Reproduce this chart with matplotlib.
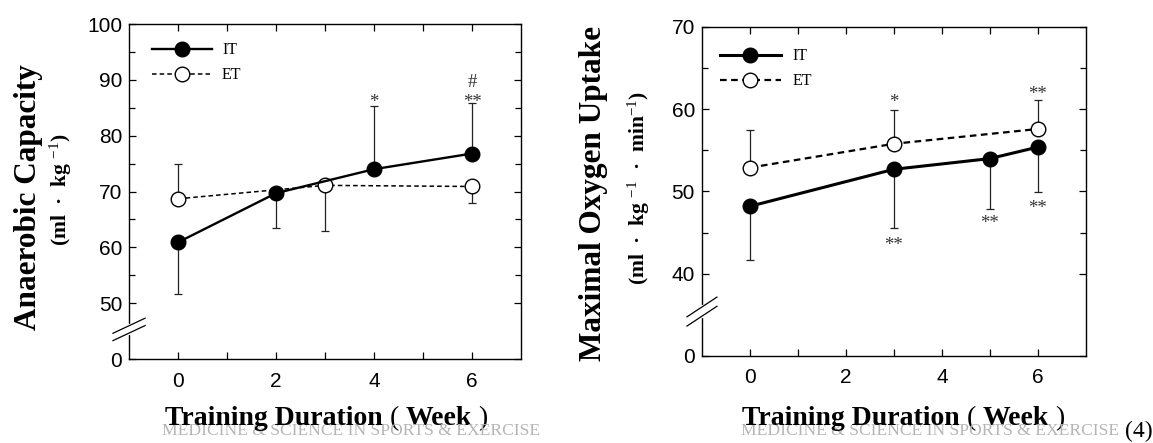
import matplotlib
matplotlib.use("Agg")
import matplotlib.pyplot as plt
from matplotlib.lines import Line2D
from matplotlib.ticker import FixedLocator

plt.rcParams['font.family'] = ['Liberation Sans', 'DejaVu Sans']
plt.rcParams['mathtext.fontset'] = 'custom'
plt.rcParams['mathtext.rm'] = 'Liberation Serif'
plt.rcParams['mathtext.it'] = 'Liberation Serif:italic'
plt.rcParams['mathtext.bf'] = 'Liberation Serif:bold'

SERIF = ['Liberation Serif', 'DejaVu Serif']

# ---------------- data: Anaerobic capacity (left) ----------------
ac_it_weeks = [0, 2, 4, 6]
ac_it_mean = [60.9, 69.7, 74.0, 76.8]
ac_it_err_low = [9.3, 6.2, 0.0, 0.0]
ac_it_err_high = [0.0, 0.0, 11.3, 9.1]

ac_et_weeks = [0, 3, 6]
ac_et_mean = [68.7, 71.1, 70.9]
ac_et_err_low = [0.0, 8.1, 2.9]
ac_et_err_high = [6.2, 0.0, 0.0]

ac_marks_text = ['*', '**', '#']
ac_marks_x = [4, 6, 6]
ac_marks_y = [86.9, 86.9, 89.8]

ac_yticks = [40, 50, 60, 70, 80, 90, 100]
ac_yticklabels = ['0', '50', '60', '70', '80', '90', '100']

# ---------------- data: VO2max (right) ----------------
vo_it_weeks = [0, 3, 5, 6]
vo_it_mean = [48.2, 52.7, 54.0, 55.4]
vo_it_err_low = [6.5, 7.1, 6.1, 5.5]
vo_it_err_high = [0.0, 0.0, 0.0, 0.0]

vo_et_weeks = [0, 3, 6]
vo_et_mean = [52.9, 55.8, 57.6]
vo_et_err_low = [0.0, 0.0, 0.0]
vo_et_err_high = [4.6, 4.1, 3.5]

vo_marks_text = ['*', '**', '**', '**', '**']
vo_marks_x = [3, 3, 5, 6, 6]
vo_marks_y = [61.5, 44.1, 46.7, 62.4, 48.6]

vo_yticks = [30, 40, 50, 60, 70]
vo_yticklabels = ['0', '40', '50', '60', '70']

xticks = [0, 2, 4, 6]
xticklabels = ['0', '2', '4', '6']
series_labels = ['IT', 'ET']

fig = plt.figure(figsize=(11.53, 4.43), dpi=100)
ax1 = fig.add_axes([0.1119, 0.1896, 0.3400, 0.7562])
ax2 = fig.add_axes([0.6088, 0.1964, 0.3330, 0.7427])


def draw_panel(ax, itw, itm, itl, ith, etw, etm, etl, eth, ylim, yticks, yticklabels,
               yminor, it_lw, et_lw, ybreak, brk_dx, brk_dy, brk_gap,
               mk_text, mk_x, mk_y, leg_anchor, leg_pad):
    ax.set_xlim(-1, 7)
    ax.set_ylim(*ylim)
    # error bars (one sided)
    ax.errorbar(itw, itm, yerr=[itl, ith], fmt='none', ecolor='#222222',
                elinewidth=0.9, capsize=3, capthick=0.9, zorder=2)
    ax.errorbar(etw, etm, yerr=[etl, eth], fmt='none', ecolor='#222222',
                elinewidth=0.9, capsize=3, capthick=0.9, zorder=2)
    ax.plot(etw, etm, linestyle=(0, (3, 2)), color='black', lw=et_lw,
            marker='o', markersize=10.5, markerfacecolor='white',
            markeredgecolor='black', markeredgewidth=1.0, zorder=3)
    ax.plot(itw, itm, linestyle='-', color='black', lw=it_lw,
            marker='o', markersize=10.5, markerfacecolor='black',
            markeredgecolor='black', zorder=4)
    for t, x, y in zip(mk_text, mk_x, mk_y):
        off = -4.5 if t == '#' else -7
        ax.annotate(t, (x, y), xytext=(0, off), textcoords='offset points',
                    ha='center', va='baseline', fontsize=13.5,
                    family=SERIF, color='#333333')

    ax.set_xticks(xticks)
    ax.set_xticklabels(xticklabels)
    ax.xaxis.set_minor_locator(FixedLocator([1, 3, 5]))
    ax.set_yticks(yticks)
    ax.set_yticklabels(yticklabels)
    ax.yaxis.set_minor_locator(FixedLocator(yminor))
    ax.tick_params(which='both', direction='in', top=True, right=True,
                   width=0.9, colors='black')
    ax.tick_params(which='major', length=5)
    ax.tick_params(which='minor', length=4)
    ax.tick_params(axis='x', which='both', labelsize=15, pad=9)
    ax.tick_params(axis='y', which='both', labelsize=15, pad=5)
    ax.tick_params(axis='x', which='minor', length=5)
    for s in ax.spines.values():
        s.set_linewidth(1.0)

    # axis break marks
    f = (ybreak - ylim[0]) / (ylim[1] - ylim[0])
    ax.plot([0, 0], [f - brk_gap / 2, f + brk_gap / 2], transform=ax.transAxes,
            color='white', lw=3, clip_on=False, zorder=5)
    for d in (-brk_gap / 2, brk_gap / 2):
        ax.plot([-brk_dx / 2, brk_dx / 2], [f + d - brk_dy / 2, f + d + brk_dy / 2],
                transform=ax.transAxes, color='black', lw=0.9,
                clip_on=False, zorder=6)

    handles = [
        Line2D([], [], color='black', lw=it_lw, marker='o', markersize=10.5,
               markerfacecolor='black'),
        Line2D([], [], color='black', lw=et_lw, linestyle=(0, (3, 2)),
               marker='o', markersize=10.5, markerfacecolor='white'),
    ]
    ax.legend(handles, series_labels, loc='upper left', bbox_to_anchor=leg_anchor,
              frameon=False, handlelength=3.8, handletextpad=leg_pad,
              labelspacing=0.55, borderaxespad=0, borderpad=0,
              prop={'family': SERIF, 'size': 11.5})


draw_panel(ax1, ac_it_weeks, ac_it_mean, ac_it_err_low, ac_it_err_high,
           ac_et_weeks, ac_et_mean, ac_et_err_low, ac_et_err_high,
           (40, 100), ac_yticks, ac_yticklabels, [55, 65, 75, 85, 95],
           1.7, 1.1, 45.3, 0.082, 0.045, 0.022,
           ac_marks_text, ac_marks_x, ac_marks_y, (0.058, 0.945), 0.6)

draw_panel(ax2, vo_it_weeks, vo_it_mean, vo_it_err_low, vo_it_err_high,
           vo_et_weeks, vo_et_mean, vo_et_err_low, vo_et_err_high,
           (30, 70), vo_yticks, vo_yticklabels, [45, 55, 65],
           2.2, 1.6, 35.4, 0.078, 0.06, 0.028,
           vo_marks_text, vo_marks_x, vo_marks_y, (0.047, 0.935), 0.75)

# y labels
fig.text(0.0243, 0.555, 'Anaerobic Capacity', rotation=90, ha='center', va='center',
         family=SERIF, weight='bold', fontsize=22.5)
fig.text(0.0529, 0.571, r'(ml  ·  kg $^{-1}$)', rotation=90, ha='center', va='center',
         family=SERIF, weight='bold', fontsize=15.5)
fig.text(0.515, 0.564, 'Maximal Oxygen Uptake', rotation=90, ha='center', va='center',
         family=SERIF, weight='bold', fontsize=22.5)
fig.text(0.554, 0.576, r'(ml  ·  kg $^{-1}$  ·  min$^{-1}$)', rotation=90, ha='center',
         va='center', family=SERIF, weight='bold', fontsize=15.5)

# watermarks
for xc in (0.3049, 0.8065):
    fig.text(xc, 0.0262, 'MEDICINE & SCIENCE IN SPORTS & EXERCISE', ha='center',
             va='center', family=SERIF, fontsize=12.6, color='#b5b5b5', zorder=0)

# x labels (mixed weight)
for x0 in (0.1431, 0.6436):
    t1 = fig.text(x0, 0.0406, 'Training Duration', ha='left', va='baseline',
                  family=SERIF, weight='bold', fontsize=20, zorder=3)
    a2 = ax1.annotate(' ( ', xy=(1, 0), xycoords=t1, ha='left', va='bottom',
                      family=SERIF, fontsize=20, annotation_clip=False)
    a3 = ax1.annotate('Week', xy=(1, 0), xycoords=a2, ha='left', va='bottom',
                      family=SERIF, weight='bold', fontsize=20, annotation_clip=False)
    ax1.annotate(' )', xy=(1, 0), xycoords=a3, ha='left', va='bottom',
                 family=SERIF, fontsize=20, annotation_clip=False)

fig.text(0.9995, 0.027, '(4)', ha='right', va='center', family=SERIF, fontsize=17)

fig.savefig('out.png', dpi=100)
